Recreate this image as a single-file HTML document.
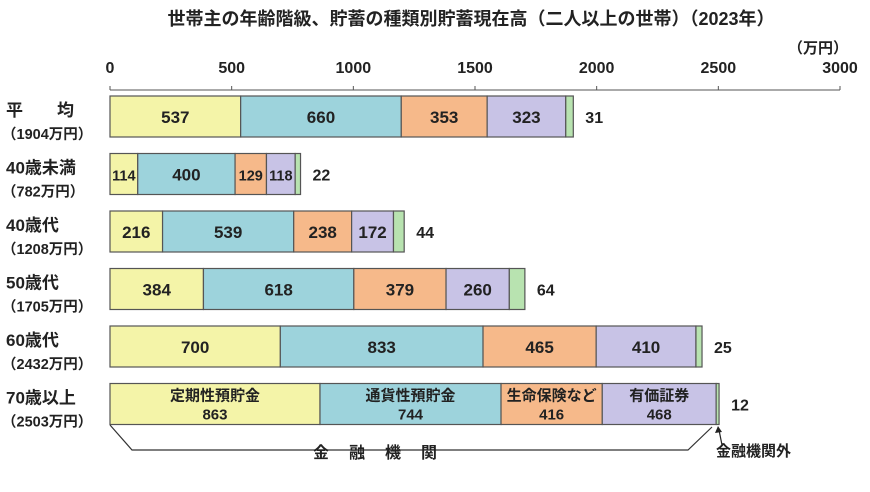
<!DOCTYPE html>
<html><head><meta charset="utf-8">
<style>
body{margin:0;background:#fff;width:870px;height:487px;overflow:hidden;font-family:"Liberation Sans","Noto Sans CJK JP",sans-serif;}
svg text{font-family:"Liberation Sans","Noto Sans CJK JP",sans-serif;fill:#222;}
</style></head><body>
<svg width="870" height="487">
<text x="471" y="25" text-anchor="middle" font-size="18" font-weight="bold">世帯主の年齢階級、貯蓄の種類別貯蓄現在高（二人以上の世帯）（2023年）</text>
<text x="848" y="53" text-anchor="end" font-size="15" font-weight="bold">（万円）</text>
<g id="axis"></g>
<g id="bars"></g>
<g>
<polyline points="110,425 132,450 688,450 712,427" fill="none" stroke="#333" stroke-width="1.2"/>
<text x="385" y="458" text-anchor="middle" font-size="16" font-weight="bold" letter-spacing="20">金融機関</text>
<line x1="722" y1="445" x2="719" y2="430" stroke="#222" stroke-width="1.2"/>
<polygon points="718,426 715,433 722,432" fill="#222"/>
<text x="716" y="456" font-size="15" font-weight="bold">金融機関外</text>
</g>
</svg>
<script>
const categories=["平　　均","40歳未満","40歳代","50歳代","60歳代","70歳以上"];
const totals=["（1904万円）","（782万円）","（1208万円）","（1705万円）","（2432万円）","（2503万円）"];
const teiki=[537,114,216,384,700,863];
const tsuka=[660,400,539,618,833,744];
const hoken=[353,129,238,379,465,416];
const yuka=[323,118,172,260,410,468];
const gai=[31,22,44,64,25,12];
const ticks=[0,500,1000,1500,2000,2500,3000];
const series=[teiki,tsuka,hoken,yuka,gai];
const colors=["#f4f4a8","#9dd3dc","#f6b98a","#c8c3e6","#b8e3b0"];
const names=["定期性預貯金","通貨性預貯金","生命保険など","有価証券"];
const NS="http://www.w3.org/2000/svg";
const x=v=>110+v*(730/3000);
const y=i=>96+i*57.5;
const BH=41;
function mk(t,a,p){const e=document.createElementNS(NS,t);for(const k in a)e.setAttribute(k,a[k]);p.appendChild(e);return e;}
const ax=document.getElementById('axis');
const gb=document.getElementById('bars');
mk('line',{x1:x(0),x2:x(3000),y1:90,y2:90,stroke:'#555','stroke-width':1},ax);
ticks.forEach(t=>{
 const l=mk('line',{x1:x(t),x2:x(t),y1:86,y2:90,stroke:'#555'},ax);
 
 
 const tx=mk('text',{x:x(t),y:73,'text-anchor':'middle','font-size':16,'font-weight':'bold'},ax);
 tx.textContent=t;
 
 
});
categories.forEach((c,i)=>{
 const yy=y(i);
 const cl=mk('text',{x:6,y:yy+20,'font-size':17,'font-weight':'bold'},gb);
 cl.textContent=c;
 
 
 const tl=mk('text',{x:2,y:yy+43,'font-size':14.5,'font-weight':'bold'},gb);
 tl.textContent=totals[i];
 
 
 let acc=0;
 series.forEach((s,j)=>{
  const v=s[i];
  const r=mk('rect',{x:x(acc),y:yy,width:x(acc+v)-x(acc),height:BH,fill:colors[j],stroke:'#555','stroke-width':1.2},gb);
  
  
  const cx=(x(acc)+x(acc+v))/2;
  if(j<4){
   if(i===5){
    const t1=mk('text',{x:cx,y:yy+17,'text-anchor':'middle','font-size':15,'font-weight':'bold'},gb);
    t1.textContent=names[j];
    
    
    const t2=mk('text',{x:cx,y:yy+36,'text-anchor':'middle','font-size':15,'font-weight':'bold'},gb);
    t2.textContent=v;
    
    
   }else{
    const t=mk('text',{x:cx,y:yy+27,'text-anchor':'middle','font-size':v<150?14.5:17,'font-weight':'bold'},gb);
    t.textContent=v;
    
    
   }
  }else{
   const t=mk('text',{x:x(acc+v)+12,y:yy+27,'font-size':16,'font-weight':'bold'},gb);
   t.textContent=v;
   
   
  }
  acc+=v;
 });
});
</script>
</body></html>
